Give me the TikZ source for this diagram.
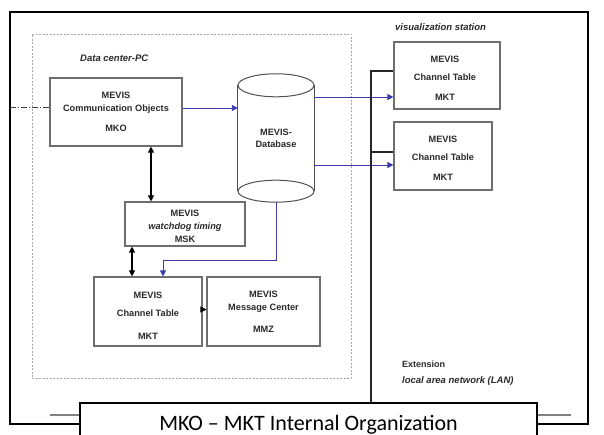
\documentclass[tikz,border=0pt]{standalone}
\usepackage{fontspec}
\setmainfont{Liberation Sans}
\newfontfamily\capfont{Carlito}
\usetikzlibrary{arrows.meta,calc}
\definecolor{boxgray}{HTML}{6E6E6E}
\definecolor{dashgray}{HTML}{A8A8A8}
\definecolor{txtc}{HTML}{2A2A2A}
\definecolor{mblue}{HTML}{3C3CAA}
\definecolor{cylgray}{HTML}{505050}
\definecolor{shortgray}{HTML}{808080}
\tikzset{
  box/.style={draw=boxgray, line width=1.1pt, rectangle, inner sep=0pt},
  txt/.style={font=\fontsize{9.2}{11}\selectfont\bfseries, text=txtc, align=center, inner sep=0pt},
  lbl/.style={font=\fontsize{9.5}{11}\selectfont\bfseries\itshape, text=txtc, inner sep=0pt, anchor=west},
  bluearr/.style={draw=mblue, line width=0.9pt, -{Triangle[length=6pt,width=6pt]}},
  dblarr/.style={draw=black, line width=1.1pt, {Triangle[length=6pt,width=6pt]}-{Triangle[length=6pt,width=6pt]}},
  onearr/.style={draw=black, line width=0.8pt, -{Triangle[length=6pt,width=6pt]}},
  lanline/.style={draw=black!85, line width=1.2pt},
  frameline/.style={draw=black, line width=2pt},
  cyl/.style={draw=cylgray, line width=1pt},
  dashdotline/.style={draw=black!75, line width=1pt, dash pattern=on 6pt off 2pt on 1pt off 2pt},
  shortline/.style={draw=shortgray, line width=1.6pt},
}
\begin{document}
\begin{tikzpicture}[x=1pt,y=-1pt]
\useasboundingbox (0,0) rectangle (604,435);
\fill[white] (0,0) rectangle (604,435);

% data center region
\node[draw=dashgray, dash pattern=on 2pt off 1.5pt, line width=0.9pt, minimum width=319pt, minimum height=344pt, inner sep=0pt] (dc) at (191.5,206) {};
\node[lbl] (dcT) at (80,58) {Data center-PC};

% boxes
\node[box, minimum width=132pt, minimum height=68pt] (mko) at (116,112) {};
\node[box, minimum width=120pt, minimum height=44pt] (msk) at (185,224) {};
\node[box, minimum width=108pt, minimum height=69pt] (mkt) at (148,311.5) {};
\node[box, minimum width=113pt, minimum height=69pt] (mmz) at (263.5,311.5) {};
\node[box, minimum width=106pt, minimum height=67pt] (mkta) at (447,75.5) {};
\node[box, minimum width=98pt, minimum height=68pt] (mktb) at (443,156) {};

\node[txt] (mkoT) at (116,111.5) {MEVIS\\[2pt]Communication Objects\\[9pt]MKO};
\node[txt] (mskT) at (185,226) {MEVIS\\[2pt]\textit{watchdog timing}\\[2pt]MSK};
\node[txt] (mktT) at (148,315.5) {MEVIS\\[7pt]Channel Table\\[12pt]MKT};
\node[txt] (mmzT) at (263.5,311.5) {MEVIS\\[2pt]Message Center\\[11pt]MMZ};
\node[txt] (mktaT) at (445,78) {MEVIS\\[7pt]Channel Table\\[9pt]MKT};
\node[txt] (mktbT) at (443,158) {MEVIS\\[7pt]Channel Table\\[9pt]MKT};

% database cylinder
\node[txt, minimum width=76pt, minimum height=128pt] (db) at (276,138) {MEVIS-\\[1pt]Database};
\draw[cyl] ($(db.north)+(0,11.5)$) ellipse [x radius=38pt, y radius=11.5pt];
\draw[cyl] ($(db.south)+(0,-11)$) ellipse [x radius=38pt, y radius=11pt];
\draw[cyl] ($(db.north west)+(0,11.5)$) -- ($(db.south west)+(0,-11)$);
\draw[cyl] ($(db.north east)+(0,11.5)$) -- ($(db.south east)+(0,-11)$);

% station labels
\node[lbl] (visT) at (395,27) {visualization station};
\node[font=\fontsize{9}{11}\selectfont\bfseries, text=txtc, inner sep=0pt, anchor=west] (extT) at (402,364) {Extension};
\node[lbl] (lanT) at (402,381) {local area network (LAN)};

% caption box
\node[draw=black, line width=1.5pt, fill=white, minimum width=457pt, minimum height=60pt, inner sep=0pt] (cap) at (308.5,433) {};
\node[font=\capfont\fontsize{22}{26}\selectfont, text=black, anchor=base, inner sep=0pt] (capT) at (308.5,430) {MKO – MKT Internal Organization};

% outer frame
\draw[frameline] (cap.west |- 0,424) -- (10,424) -- (10,12) -- (588,12) -- (588,424) -- (cap.east |- 0,424);
\coordinate (gl) at (50,415);
\coordinate (gr) at (571,415);
\draw[shortline] (gl) -- (cap.west |- gl);
\draw[shortline] (cap.east |- gr) -- (gr);

% external dash-dot input
\coordinate (extin) at (10,108);
\draw[dashdotline] (extin) -- ([yshift=4pt]mko.west);

% blue data flows
\coordinate (mkoout) at ([yshift=4pt]mko.east);
\draw[bluearr] (mkoout) -- (mkoout -| db.west);
\coordinate (ina) at ([yshift=-21.5pt]mkta.west);
\coordinate (inb) at ([yshift=-9pt]mktb.west);
\draw[bluearr] (db.east |- ina) -- (ina);
\draw[bluearr] (db.east |- inb) -- (inb);
\coordinate (mktin) at ([xshift=15pt]mkt.north);
\draw[bluearr] (db.south) -- ++(0,58) -| (mktin);

% black arrows
\coordinate (a1) at ([xshift=35pt]mko.south);
\draw[dblarr] (a1) -- (a1 |- msk.north);
\coordinate (a2) at ([xshift=-16pt]mkt.north);
\draw[dblarr] (a2 |- msk.south) -- (a2);
\coordinate (a3) at ([yshift=2pt]mkt.east);
\draw[onearr] (a3) -- (a3 -| mmz.west);

% LAN bus
\coordinate (bus) at (371,71);
\coordinate (lana) at ([yshift=4.5pt]mkta.west);
\coordinate (lanb) at ([yshift=4pt]mktb.west);
\draw[lanline] (bus |- cap.north) -- (bus) -- (lana);
\draw[lanline] (bus |- lanb) -- (lanb);
\end{tikzpicture}
\end{document}
